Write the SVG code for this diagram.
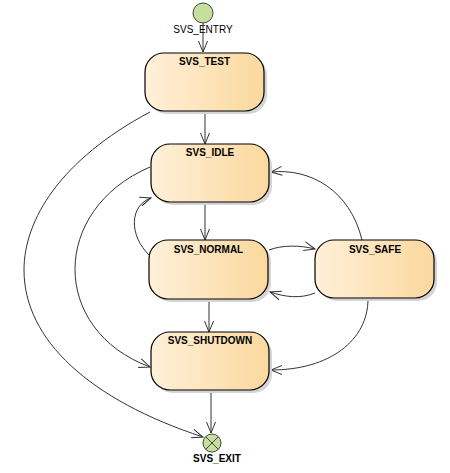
<svg xmlns="http://www.w3.org/2000/svg" width="450" height="473" viewBox="0 0 450 473">
<style>
.node{stroke:#000;stroke-width:1.2;fill:url(#g)}
.shadow{fill:#d4d4d4;stroke:none}
.title{font-family:"Liberation Sans",Arial,sans-serif;font-weight:bold;font-size:10px;fill:#000;text-anchor:middle}
.lbl{font-family:"Liberation Sans",Arial,sans-serif;font-size:10px;fill:#000;text-anchor:middle}
.edge{fill:none;stroke:#333;stroke-width:1;marker-end:url(#arr)}
.pseudo{fill:#c6df9c;stroke:#444;stroke-width:1}
</style>
<defs>
<linearGradient id="g" x1="0" y1="0" x2="1" y2="0">
<stop offset="0" stop-color="#fff0d9"/>
<stop offset="1" stop-color="#fbd89d"/>
</linearGradient>
<marker id="arr" markerUnits="userSpaceOnUse" markerWidth="12" markerHeight="10" refX="11" refY="4.5" orient="auto" overflow="visible">
<path d="M0,0 L11,4.5 L0,9" fill="none" stroke="#333" stroke-width="1"/>
</marker>
</defs>
<g id="connectors">
<path class="edge" d="M203,23 L203,52"/>
<path class="edge" d="M205,111 L205,144"/>
<path class="edge" d="M205,202 L205,240"/>
<path class="edge" d="M209,299 L209,332"/>
<path class="edge" d="M211,390 L211,433"/>
<path class="edge" d="M150,256 C128,235 130,205 151,198"/>
<path class="edge" d="M150,167 C50,210 50,330 150,367"/>
<path class="edge" d="M150,112 C60,160 24,220 24,270 C24,340 90,400 203,437"/>
<path class="edge" d="M269,250 C282,245 300,245 315,249"/>
<path class="edge" d="M315,293 C300,299 285,297 270,292"/>
<path class="edge" d="M362,240 C350,190 310,168 271,172"/>
<path class="edge" d="M368,299 C368,340 330,370 271,370"/>
</g>
<g id="SVS_ENTRY">
<circle class="pseudo" cx="203" cy="13" r="10"/>
<text class="lbl" x="203" y="33">SVS_ENTRY</text>
</g>
<g id="SVS_TEST">
<rect class="shadow" x="148" y="56" width="119" height="58" rx="19"/>
<rect class="node" x="145" y="53" width="119" height="58" rx="19"/>
<text class="title" x="204.5" y="65">SVS_TEST</text>
</g>
<g id="SVS_IDLE">
<rect class="shadow" x="154" y="147" width="118" height="58" rx="19"/>
<rect class="node" x="151" y="144" width="118" height="58" rx="19"/>
<text class="title" x="210" y="156">SVS_IDLE</text>
</g>
<g id="SVS_NORMAL">
<rect class="shadow" x="152" y="243" width="119" height="59" rx="19"/>
<rect class="node" x="149" y="240" width="119" height="59" rx="19"/>
<text class="title" x="208.5" y="253">SVS_NORMAL</text>
</g>
<g id="SVS_SAFE">
<rect class="shadow" x="318" y="243" width="119" height="58" rx="19"/>
<rect class="node" x="315" y="240" width="119" height="58" rx="19"/>
<text class="title" x="375" y="253">SVS_SAFE</text>
</g>
<g id="SVS_SHUTDOWN">
<rect class="shadow" x="154" y="335" width="118" height="58" rx="19"/>
<rect class="node" x="151" y="332" width="118" height="58" rx="19"/>
<text class="title" x="210" y="344">SVS_SHUTDOWN</text>
</g>
<g id="SVS_EXIT">
<circle class="pseudo" cx="212" cy="443" r="9"/>
<path d="M205.6,436.6 L218.4,449.4 M218.4,436.6 L205.6,449.4" stroke="#444" stroke-width="1"/>
<text class="title" x="217" y="462">SVS_EXIT</text>
</g>
</svg>
